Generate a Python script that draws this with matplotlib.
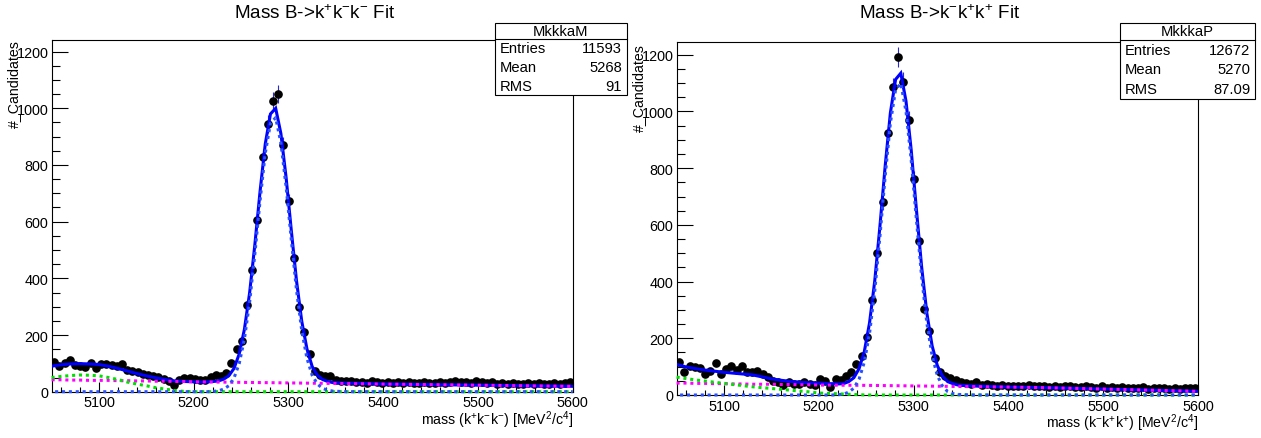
import numpy as np
import matplotlib
matplotlib.use("Agg")
import matplotlib.pyplot as plt
from matplotlib.patches import Rectangle
from matplotlib.lines import Line2D
from matplotlib.ticker import MultipleLocator

plt.rcParams['font.family'] = ['Liberation Sans', 'DejaVu Sans']
plt.rcParams['mathtext.fontset'] = 'custom'
plt.rcParams['mathtext.rm'] = 'Liberation Sans'
plt.rcParams['mathtext.it'] = 'Liberation Sans:italic'
plt.rcParams['mathtext.bf'] = 'Liberation Sans:bold'

# ---------------------------------------------------------------- binning
mass_lo, mass_hi, n_bins = 5050.0, 5600.0, 100

# ---------------------------------------------------------------- data: B- -> K+ K- K-
counts_minus = [
    104, 92, 100, 112, 95, 90, 88, 101, 84, 98,
    98, 95, 90, 97, 78, 74, 68, 64, 60, 54,
    51, 45, 39, 25, 42, 47, 49, 45, 43, 41,
    51, 59, 56, 66, 100, 149, 179, 307, 430, 606,
    827, 944, 1024, 1050, 870, 672, 472, 300, 210, 133,
    74, 60, 54, 56, 42, 38, 36, 38, 34, 35,
    32, 38, 33, 30, 34, 31, 35, 32, 33, 30,
    31, 34, 29, 32, 33, 30, 34, 36, 33, 35,
    31, 36, 33, 30, 34, 28, 30, 27, 29, 26,
    28, 30, 27, 29, 26, 28, 30, 27, 29, 33,
]

# ---------------------------------------------------------------- data: B+ -> K- K+ K+
counts_plus = [
    115, 80, 101, 98, 95, 74, 86, 112, 74, 92,
    103, 89, 101, 80, 80, 84, 74, 62, 50, 47,
    35, 45, 39, 39, 45, 39, 35, 56, 48, 29,
    56, 54, 66, 81, 109, 138, 203, 336, 501, 680,
    923, 1085, 1193, 1105, 971, 762, 542, 302, 225, 130,
    80, 66, 60, 52, 47, 42, 40, 45, 36, 38,
    34, 33, 35, 31, 33, 30, 32, 34, 31, 30,
    33, 29, 31, 28, 30, 32, 27, 29, 31, 28,
    26, 30, 24, 27, 25, 28, 23, 26, 24, 27,
    22, 25, 23, 26, 22, 24, 21, 25, 23, 24,
]

# ---------------------------------------------------------------- fit curves (sampled)
fit_mass = [5050, 5060, 5070, 5080, 5090, 5100, 5110, 5120, 5130, 5140,
            5150, 5160, 5170, 5180, 5190, 5200, 5210,
            5215, 5220.5, 5226, 5231.5, 5237, 5242.5, 5248, 5253.5, 5259,
            5264.5, 5270, 5275.5, 5281, 5286.5, 5292, 5297.5, 5303, 5308.5,
            5314, 5319.5, 5325, 5330.5, 5336, 5341.5, 5347,
            5360, 5380, 5400, 5450, 5500, 5550, 5600]

total_minus = [90, 95, 98, 99, 98, 96, 90, 82, 73, 64,
               56, 49, 43, 38, 36, 35, 34,
               35, 36, 38, 44, 56, 82, 133, 220, 349,
               518, 706, 874, 980, 1000, 911, 756, 569, 391,
               249, 151, 89, 58, 43, 36, 32,
               30, 29, 27, 25, 23, 21, 19]
signal_minus = [0, 0, 0, 0, 0, 0, 0, 0, 0, 0,
                0, 0, 0, 0, 0, 0, 0,
                0, 1, 3, 9, 21, 48, 99, 186, 316,
                485, 673, 841, 947, 967, 878, 723, 536, 358,
                216, 118, 58, 27, 12, 5, 2,
                0, 0, 0, 0, 0, 0, 0]

total_plus = [108, 99, 93, 88, 84, 80, 77, 74, 71, 64,
              57, 52, 48, 45, 43, 42, 40,
              40, 39, 40, 47, 61, 93, 153, 254, 402,
              596, 807, 995, 1113, 1135, 1036, 863, 653, 451,
              288, 174, 104, 66, 47, 40, 35,
              32, 30, 28, 25, 21, 17, 13]
signal_plus = [0, 0, 0, 0, 0, 0, 0, 0, 0, 0,
               0, 0, 0, 0, 0, 0, 0,
               0, 1, 3, 10, 24, 56, 116, 217, 366,
               560, 771, 959, 1077, 1099, 1000, 827, 617, 416,
               253, 139, 69, 31, 12, 5, 2,
               0, 0, 0, 0, 0, 0, 0]

bkg_mass = [5050, 5060, 5070, 5080, 5090, 5100, 5110, 5120, 5130, 5140,
            5150, 5160, 5170, 5180, 5190, 5200, 5250, 5300, 5350, 5400,
            5450, 5500, 5550, 5600]
comb_minus = [42, 42, 41, 41, 40, 40, 40, 39, 39, 38,
              38, 37, 37, 36, 36, 35, 33, 31, 29, 27,
              25, 23, 21, 19]
part_minus = [50, 54, 57, 59, 58, 56, 50, 43, 34, 27,
              21, 14, 9, 4, 1, 0, 0, 0, 0, 0,
              0, 0, 0, 0]
comb_plus = [42, 42, 41, 41, 40, 40, 39, 39, 38, 38,
             38, 37, 37, 36, 36, 35, 34, 32, 30, 28,
             25, 21, 17, 13]
part_plus = [63, 58, 53, 49, 45, 41, 37, 33, 29, 26,
             23, 20, 17, 14, 11, 7, 0, 0, 0, 0,
             0, 0, 0, 0]

titles = ["Mass B->k$^{+}$k$^{-}$k$^{-}$ Fit", "Mass B->k$^{-}$k$^{+}$k$^{+}$ Fit"]
xlabels = ["mass (k$^{+}$k$^{-}$k$^{-}$) [MeV$^{2}$/c$^{4}$]",
           "mass (k$^{-}$k$^{+}$k$^{+}$) [MeV$^{2}$/c$^{4}$]"]
stat_names = ["MkkkaM", "MkkkaP"]
stat_rows = [[("Entries", "11593"), ("Mean", "5268"), ("RMS", "91")],
             [("Entries", "12672"), ("Mean", "5270"), ("RMS", "87.09")]]

# ---------------------------------------------------------------- figure
W, H = 1261, 439
fig = plt.figure(figsize=(W / 100, H / 100), dpi=100)
fig.patch.set_facecolor('white')


def fx(x):
    return x / W


def fy(y):
    return 1 - y / H


def axes_from_px(x0, x1, ytop, ybot):
    return fig.add_axes([fx(x0), fy(ybot), fx(x1) - fx(x0), fy(ytop) - fy(ybot)])


panels = [
    dict(box=(51.6, 572.7, 40.7, 392.7), ymax=1242, counts=counts_minus,
         total=total_minus, signal=signal_minus, comb=comb_minus, part=part_minus,
         title_x=315, ylab_x=14, ylab_top=40, xlab_y=420.5,
         stat=(495, 627, 24, 96, 40)),
    dict(box=(676.6, 1198.0, 42.7, 396.0), ymax=1246, counts=counts_plus,
         total=total_plus, signal=signal_plus, comb=comb_plus, part=part_plus,
         title_x=940, ylab_x=639, ylab_top=44, xlab_y=423.5,
         stat=(1120, 1255, 24, 100, 41)),
]

edges = np.linspace(mass_lo, mass_hi, n_bins + 1)
centers = 0.5 * (edges[:-1] + edges[1:])
half_w = 0.5 * (edges[1] - edges[0])

err_color = '#2a2ad0'
dot = (0, (1, 1.25))

for i, p in enumerate(panels):
    ax = axes_from_px(*p['box'])
    ax.set_xlim(mass_lo, mass_hi)
    ax.set_ylim(0, p['ymax'])
    y = np.asarray(p['counts'], dtype=float)

    # data points with Poisson errors
    ax.errorbar(centers, y, yerr=np.sqrt(y), xerr=half_w, fmt='none',
                ecolor=err_color, elinewidth=0.8, capsize=0, zorder=2)
    ax.plot(centers, y, 'o', color='black', ms=5.2, mec='black', zorder=3)

    # fit components
    ax.plot(fit_mass, p['total'], '-', color='#0000ff', lw=2.2, zorder=4,
            solid_joinstyle='miter')
    ax.plot(bkg_mass, p['comb'], color='#ff00ff', lw=2.2, ls=dot, zorder=5,
            clip_on=False)
    ax.plot(bkg_mass, p['part'], color='#00e000', lw=2.2, ls=dot, zorder=5,
            clip_on=False)
    ax.plot(fit_mass, p['signal'], color='#2850ff', lw=2.2,
            ls=(1.1, (1, 1.25)), zorder=6, clip_on=False)

    # axes styling
    for s in ax.spines.values():
        s.set_linewidth(0.8)
        s.set_color('black')
    ax.xaxis.set_major_locator(MultipleLocator(100))
    ax.xaxis.set_minor_locator(MultipleLocator(20))
    ax.yaxis.set_major_locator(MultipleLocator(200))
    ax.yaxis.set_minor_locator(MultipleLocator(50))
    ax.tick_params(axis='both', which='both', direction='in', top=False,
                   right=False, width=0.8, labelsize=10.4, colors='black')
    ax.tick_params(axis='y', which='major', length=11.5, pad=2.4)
    ax.tick_params(axis='y', which='minor', length=5.8)
    ax.tick_params(axis='x', which='major', length=7.5, pad=2.6)
    ax.tick_params(axis='x', which='minor', length=3.8)

    x0, x1, yt, yb = p['box']
    fig.text(fx(x1), fy(p['xlab_y']), xlabels[i], ha='right', va='center',
             fontsize=10.2)

    fig.text(fx(p['ylab_x']), fy(p['ylab_top']), "#_Candidates", rotation=90,
             ha='center', va='top', fontsize=10.2)
    fig.text(fx(p['title_x']), fy(14), titles[i], ha='center', va='center',
             fontsize=13.6)

    # statistics box
    sx0, sx1, sy0, sy1, sdiv = p['stat']
    fig.patches.append(Rectangle((fx(sx0), fy(sy1)), fx(sx1) - fx(sx0),
                                 fy(sy0) - fy(sy1), transform=fig.transFigure,
                                 facecolor='white', edgecolor='black', lw=0.8,
                                 zorder=10))
    fig.lines.append(Line2D([fx(sx0), fx(sx1)], [fy(sdiv), fy(sdiv)],
                            transform=fig.transFigure, color='black', lw=0.8,
                            zorder=11))
    fig.text(fx(0.5 * (sx0 + sx1)), fy(0.5 * (sy0 + sdiv)), stat_names[i],
             ha='center', va='center', fontsize=10.6, zorder=12)
    row_h = (sy1 - sdiv) / 3.0
    for r, (name, val) in enumerate(stat_rows[i]):
        yy = sdiv + row_h * (r + 0.5)
        fig.text(fx(sx0 + 5), fy(yy), name, ha='left', va='center',
                 fontsize=10.6, zorder=12)
        fig.text(fx(sx1 - 5), fy(yy), val, ha='right', va='center',
                 fontsize=10.6, zorder=12)

fig.savefig("out.png", dpi=100, facecolor='white')
